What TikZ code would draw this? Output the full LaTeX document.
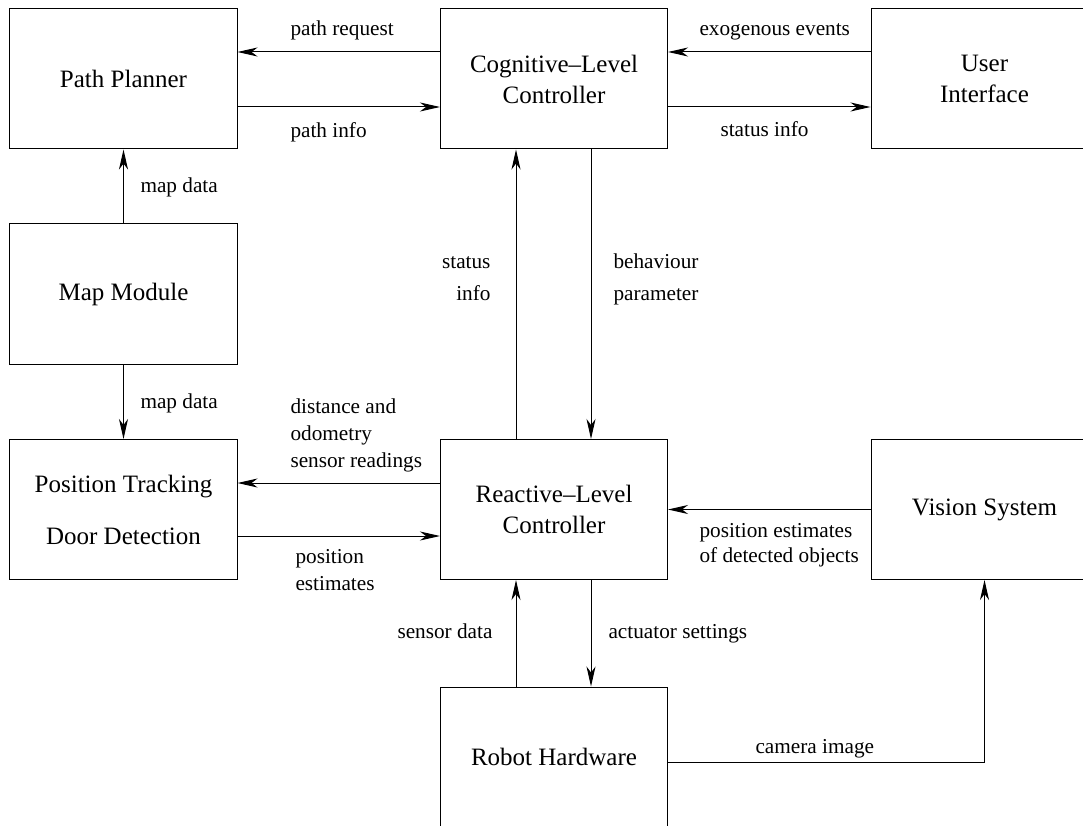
\documentclass[tikz,border=0pt]{standalone}
\usepackage{fontspec}
\setmainfont{Liberation Serif}
\usetikzlibrary{arrows.meta}

\tikzset{
  blk/.style={draw, line width=0.4pt, minimum width=90.8pt, minimum height=56pt, inner sep=2pt,
    align=center, font=\fontsize{10}{12.4}\selectfont},
  lbl/.style={inner sep=0pt, font=\fontsize{8.5}{10.8}\selectfont},
  flow/.style={line width=0.4pt, -{Stealth[length=8pt,width=3.6pt,inset=2.4pt]}}
}

\begin{document}
\begin{tikzpicture}[x=0.4pt,y=0.4pt,yscale=-1,xscale=1]
    \useasboundingbox (0,0) rectangle (1083,825);
    \clip (0,0) rectangle (1083,825);
    %Shape: Rectangle
    \node [blk] (planner) at (123.5,79) {Path Planner};
    \node [blk] (cognitive) at (554,79) {Cognitive--Level\\Controller};
    \node [blk] (ui) at (984.5,79) {User\\Interface};
    \node [blk] (map) at (123.5,294) {Map Module};
    \node [blk] (tracking) at (123.5,509.5) {Position Tracking\\[8.4pt]Door Detection};
    \node [blk] (reactive) at (554,509.5) {Reactive--Level\\Controller};
    \node [blk] (vision) at (984.5,509.5) {Vision System};
    \node [blk] (robot) at (554,757) {Robot Hardware};
    %Straight Lines
    \draw [flow] ([yshift=-10.8pt]cognitive.west) -- ([yshift=-10.8pt]planner.east);
    \draw [flow] ([yshift=11.2pt]planner.east) -- ([yshift=11.2pt]cognitive.west);
    \draw [flow] ([yshift=-10.8pt]ui.west) -- ([yshift=-10.8pt]cognitive.east);
    \draw [flow] ([yshift=11.2pt]cognitive.east) -- ([yshift=11.2pt]ui.west);
    \draw [flow] (map.north) -- (planner.south);
    \draw [flow] (map.south) -- (tracking.north);
    \draw [flow] ([xshift=-15.2pt]reactive.north) -- ([xshift=-15.2pt]cognitive.south);
    \draw [flow] ([xshift=14.8pt]cognitive.south) -- ([xshift=14.8pt]reactive.north);
    \draw [flow] ([yshift=-10.6pt]reactive.west) -- ([yshift=-10.6pt]tracking.east);
    \draw [flow] ([yshift=10.6pt]tracking.east) -- ([yshift=10.6pt]reactive.west);
    \draw [flow] (vision.west) -- (reactive.east);
    \draw [flow] ([xshift=-15.2pt]robot.north) -- ([xshift=-15.2pt]reactive.south);
    \draw [flow] ([xshift=14.8pt]reactive.south) -- ([xshift=14.8pt]robot.north);
    \draw [flow] ([yshift=2pt]robot.east) -| (vision.south);
    % Text Node
    \node [lbl, anchor=base west] (lreq) at (290,36) {path request};
    \node [lbl, anchor=base west] (linfo) at (290,138) {path info};
    \node [lbl, anchor=base west] (lexo) at (699,36) {exogenous events};
    \node [lbl, anchor=base west] (lstat) at (720,137) {status info};
    \node [lbl, anchor=base west] (lmapup) at (140,193) {map data};
    \node [lbl, anchor=base west] (lmapdown) at (140,408) {map data};
    \node [lbl, anchor=base east, align=right, font=\fontsize{8.5}{12.8}\selectfont] (lstatus) at (491,300) {status\\info};
    \node [lbl, anchor=base west, align=left, font=\fontsize{8.5}{12.8}\selectfont] (lbehav) at (613,300) {behaviour\\parameter};
    \node [lbl, anchor=base west, align=left] (ldist) at (290,467) {distance and\\odometry\\sensor readings};
    \node [lbl, anchor=base west, align=left] (lpos) at (295,590) {position\\estimates};
    \node [lbl, anchor=base west, align=left, font=\fontsize{8.5}{10}\selectfont] (lobj) at (699,562) {position estimates\\of detected objects};
    \node [lbl, anchor=base east] (lsensor) at (493,638) {sensor data};
    \node [lbl, anchor=base west] (lact) at (608,638) {actuator settings};
    \node [lbl, anchor=base west] (lcam) at (755,753) {camera image};
\end{tikzpicture}
\end{document}
